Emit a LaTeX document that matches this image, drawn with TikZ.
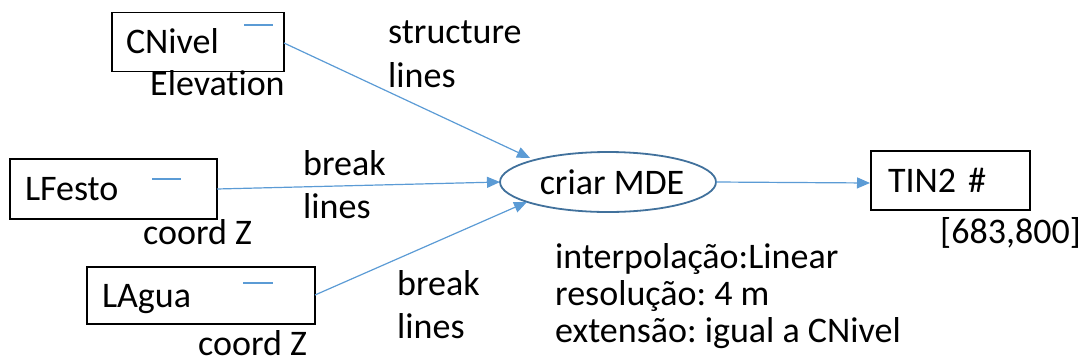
\documentclass[tikz,border=0pt]{standalone}
\usepackage{fontspec}
\setmainfont[Ligatures={NoCommon}]{Carlito}
\usetikzlibrary{arrows.meta,shapes.geometric}
\definecolor{arrowblue}{HTML}{5B9BD5}
\definecolor{ellblue}{HTML}{41719C}
\tikzset{
  databox/.style={draw=black, line width=1.2pt, rectangle, inner xsep=0pt, inner ysep=0pt, align=left, text height=23pt, text depth=0pt},
  lbl/.style={anchor=base west, inner sep=0pt},
  flow/.style={draw=arrowblue, line width=1.2pt, -{Triangle[length=13pt,width=11pt]}},
  tick/.style={draw=arrowblue, line width=1.1pt}
}
\frenchspacing
\begin{document}
\begin{tikzpicture}[x=1pt,y=-1pt,font=\fontsize{36}{43}\selectfont]
\useasboundingbox (0,0) rectangle (1081,362);
% boxes
\node[databox, minimum width=172pt, minimum height=59pt, text width=144pt] (cn) at (198,42) {CNivel};
\node[databox, minimum width=207pt, minimum height=60pt, text width=177pt] (lf) at (113.5,189) {LFesto};
\node[databox, minimum width=228pt, minimum height=57pt, text width=198pt] (la) at (201,295.5) {LAgua};
\node[databox, minimum width=159pt, minimum height=59pt, text width=125pt] (tin) at (950.5,180.5) {TIN2\hspace*{12pt}\#};
% ellipse
\node[ellipse, draw=ellblue, line width=1.8pt, minimum width=216pt, minimum height=60pt, inner sep=0pt] (mde) at (608,182) {\hspace*{8pt}criar MDE};
% small marks inside boxes
\coordinate (m1a) at (244,25); \coordinate (m1b) at (273,25);
\coordinate (m2a) at (152,179); \coordinate (m2b) at (181,179);
\coordinate (m3a) at (243,283); \coordinate (m3b) at (273,283);
\draw[tick] (m1a) -- (m1b);
\draw[tick] (m2a) -- (m2b);
\draw[tick] (m3a) -- (m3b);
% connector endpoints
\coordinate (s1) at (284,43);
\coordinate (t1) at (530,158);
\coordinate (s2) at (217,189);
\coordinate (t2) at (500,182);
\coordinate (s3) at (315,295);
\coordinate (t3) at (527,202);
\coordinate (s4) at (716,182);
\coordinate (t4) at (870,183);
\draw[flow] (s1) -- (t1);
\draw[flow] (s2) -- (t2);
\draw[flow] (s3) -- (t3);
\draw[flow] (s4) -- (t4);
% labels
\node[lbl] (elev) at (150,95) {Elevation};
\node[lbl] (cz1) at (143,244) {coord Z};
\node[lbl] (cz2) at (198,355) {coord Z};
\node[lbl] (coords) at (940,243) {[683,800]};
\node[lbl] (sl1) at (388,43) {structure};
\node[lbl] (sl2) at (388,87) {lines};
\node[lbl] (bl1) at (303,175) {break};
\node[lbl] (bl2) at (303,218) {lines};
\node[lbl] (bl3) at (397,295) {break};
\node[lbl] (bl4) at (397,338) {lines};
\node[lbl] (p1) at (555,268) {interpolação:Linear};
\node[lbl] (p2) at (555,305) {resolução: 4 m};
\node[lbl] (p3) at (555,342) {extensão: igual a CNivel};
\end{tikzpicture}
\end{document}
